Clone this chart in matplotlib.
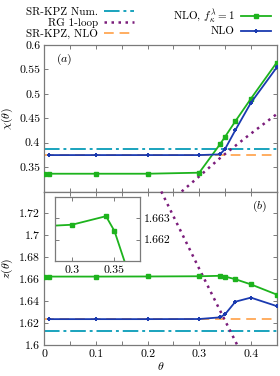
import matplotlib
matplotlib.use("Agg")
import matplotlib.pyplot as plt
import numpy as np

plt.rcParams['font.family'] = ['cmr10', 'DejaVu Serif']
plt.rcParams['mathtext.fontset'] = 'cm'
plt.rcParams['axes.formatter.use_mathtext'] = True
FS = 8.5
LFS = 8
plt.rcParams['font.size'] = FS

# ---------------- data ----------------
theta_f1 = [0.0, 0.01, 0.1, 0.2, 0.3, 0.34, 0.35, 0.37, 0.4, 0.45]
chi_f1 = [0.3364, 0.3364, 0.3364, 0.3364, 0.3385, 0.3965, 0.412, 0.444, 0.490, 0.564]
z_f1 = [1.6624, 1.6624, 1.6624, 1.6625, 1.6627, 1.6631, 1.6624, 1.6600, 1.6553, 1.6460]

theta_nlo = [0.01, 0.1, 0.2, 0.3, 0.34, 0.35, 0.37, 0.4, 0.45]
chi_nlo = [0.3746, 0.3746, 0.3746, 0.3746, 0.376, 0.387, 0.4258, 0.4816, 0.554]
z_nlo = [1.6236, 1.6236, 1.6236, 1.6237, 1.6252, 1.628, 1.6395, 1.6432, 1.6355]

theta_rg_chi = [0.266, 0.3, 0.343, 0.392, 0.45]
chi_rg = [0.300, 0.331, 0.371, 0.412, 0.4585]
theta_rg_z = [0.2265, 0.3, 0.372, 0.40]
z_rg = [1.740, 1.6695, 1.6015, 1.575]

chi_srkpz_num = 0.3863
z_srkpz_num = 1.6125
chi_srkpz_nlo = 0.3746
z_srkpz_nlo = 1.6238

theta_range = [0.0, 0.45]

# ---------------- style ----------------
c_green = '#1db31d'
c_blue = '#1a3ab0'
c_teal = '#19a3bd'
c_purple = '#7b1d7b'
c_orange = '#ffad60'
c_spine = '#7a7a7a'

fig = plt.figure(figsize=(2.8, 3.76), dpi=100)
W, H = 280, 376
def rect(x0, y0, x1, y1):
    return [x0 / W, 1 - y1 / H, (x1 - x0) / W, (y1 - y0) / H]

ax1 = fig.add_axes(rect(44.3, 45, 276.7, 191.5))
ax2 = fig.add_axes(rect(44.3, 191.5, 276.7, 345))

def style(ax):
    for s in ax.spines.values():
        s.set_color(c_spine)
        s.set_linewidth(0.9)
    ax.tick_params(which='both', direction='in', top=True, right=True,
                   color=c_spine, length=3.0, width=0.7, labelsize=FS, pad=3)

teal_dash = (8, 2, 1.5, 2)
orange_dash = (5, 3)
purple_dot = (1.0, 1.8)

for ax, yn, yo, rt, ry, yf, ynl in [
        (ax1, chi_srkpz_num, chi_srkpz_nlo, theta_rg_chi, chi_rg, chi_f1, chi_nlo),
        (ax2, z_srkpz_num, z_srkpz_nlo, theta_rg_z, z_rg, z_f1, z_nlo)]:
    ax.plot(theta_range, [yo, yo], color=c_orange, lw=1.4, dashes=orange_dash, zorder=2,
            label='SR-KPZ, NLO')
    ax.plot(theta_range, [yn, yn], color=c_teal, lw=1.4, dashes=teal_dash, zorder=2,
            label='SR-KPZ Num.')
    ax.plot(rt, ry, color=c_purple, lw=1.8, dashes=purple_dot, zorder=3,
            label='RG 1-loop')
    ax.plot(theta_f1, yf, color=c_green, lw=1.3, marker='s', ms=3.2, zorder=4,
            label=r'NLO, $f_\kappa^\lambda = 1$')
    ax.plot(theta_nlo, ynl, color=c_blue, lw=1.3, marker='+', ms=3.5, mew=1.4, zorder=5,
            label='NLO')
    ax.set_xlim(0, 0.45)
    style(ax)
    ax.set_xticks(np.arange(0, 0.451, 0.1))
    ax.set_xticks(np.arange(0.05, 0.451, 0.1), minor=True)

ax1.set_ylim(0.3, 0.6)
ax1.set_yticks([0.3, 0.35, 0.4, 0.45, 0.5, 0.55, 0.6])
ax1.set_yticklabels(['', '0.35', '0.4', '0.45', '0.5', '0.55', '0.6'])
ax1.tick_params(labelbottom=False)
ax1.set_ylabel(r'$\chi(\theta)$', labelpad=3)
ax1.text(0.085, 0.9, r'$(a)$', transform=ax1.transAxes, ha='center', va='center', fontsize=FS)

ax2.set_ylim(1.6, 1.74)
ax2.set_yticks([1.6, 1.62, 1.64, 1.66, 1.68, 1.7, 1.72, 1.74])
ax2.set_yticklabels(['1.6', '1.62', '1.64', '1.66', '1.68', '1.7', '1.72', ''])
ax2.set_xticklabels(['0', '0.1', '0.2', '0.3', '0.4'])
ax2.set_ylabel(r'$z(\theta)$', labelpad=3)
ax2.set_xlabel(r'$\theta$', labelpad=1)
ax2.text(0.925, 0.9, r'$(b)$', transform=ax2.transAxes, ha='center', va='center', fontsize=FS)

# inset
axi = fig.add_axes(rect(55, 197, 140, 261))
axi.plot(theta_f1, z_f1, color=c_green, lw=1.3, marker='s', ms=3.2)
axi.set_xlim(0.28, 0.38)
axi.set_ylim(1.661, 1.664)
axi.set_xticks([0.3, 0.35])
axi.set_xticklabels(['0.3', '0.35'])
axi.set_yticks([1.662, 1.663])
axi.set_yticklabels(['1.662', '1.663'])
style(axi)
axi.tick_params(labelleft=False, labelright=True)

# legends
h, l = ax1.get_legend_handles_labels()
hd = dict(zip(l, h))
common = dict(frameon=False, markerfirst=False, alignment='right', handlelength=2.7,
              handletextpad=0.55, labelspacing=0.1, borderaxespad=0, borderpad=0,
              fontsize=LFS)
leg1 = fig.legend([hd['SR-KPZ Num.'], hd['RG 1-loop'], hd['SR-KPZ, NLO']],
                  ['SR-KPZ Num.', 'RG 1-loop', 'SR-KPZ, NLO'],
                  loc='upper right', bbox_to_anchor=(134 / W, 1 - 7 / H), **common)
leg2 = fig.legend([hd[r'NLO, $f_\kappa^\lambda = 1$'], hd['NLO']],
                  [r'NLO, $f_\kappa^\lambda = 1$', 'NLO'],
                  loc='upper right', bbox_to_anchor=(271 / W, 1 - 7 / H), **common)

fig.savefig('out.png', dpi=100)
